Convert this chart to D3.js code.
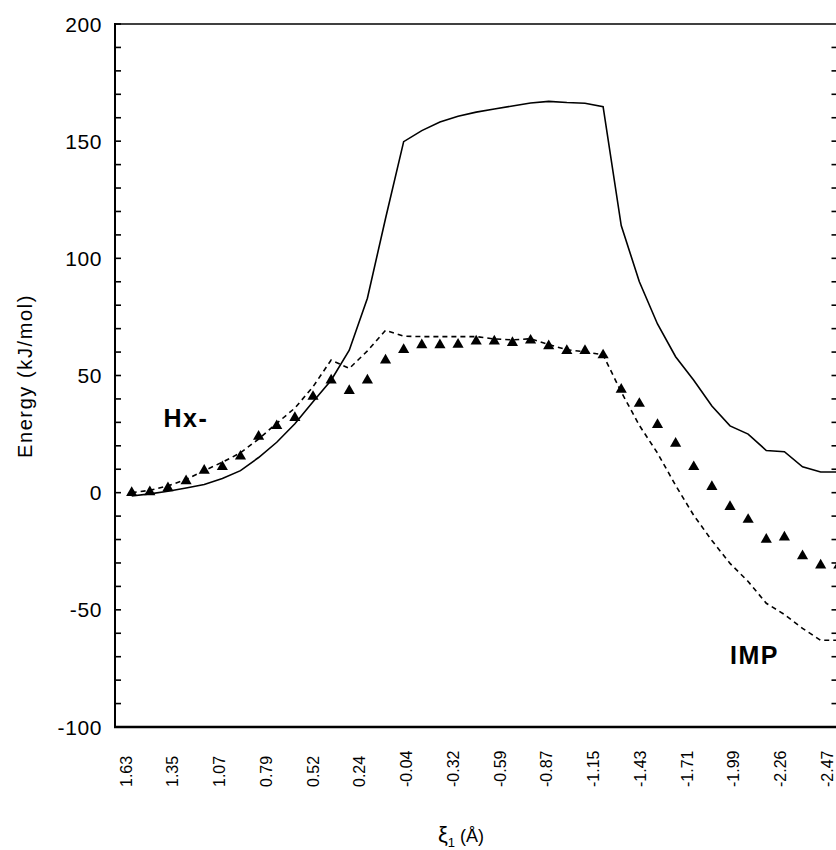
<!DOCTYPE html>
<html>
<head>
<meta charset="utf-8">
<script src="https://cdn.jsdelivr.net/npm/d3@7"></script>
<style>
  html, body { margin: 0; padding: 0; background: #fff; }
  svg { display: block; font-family: "Liberation Sans", Arial, sans-serif; }
</style>
</head>
<body>
<svg id="chart" width="836" height="850"></svg>
<script>
// ---- data ----
const xLabels = ["1.63","1.35","1.07","0.79","0.52","0.24","-0.04","-0.32","-0.59","-0.87","-1.15","-1.43","-1.71","-1.99","-2.26","-2.47"];
const yTicks = [-100, -50, 0, 50, 100, 150, 200];

// energies (kJ/mol) at successive points along the path
const solidLine = [-1.4, -0.5, 0.6, 2, 3.5, 6, 9.4, 15, 21.5, 29.4, 38.8, 48, 60.8, 83, 117, 149.8,
  154.5, 158.2, 160.6, 162.4, 163.7, 165, 166.3, 167, 166.5, 166.2, 164.7, 114, 90, 72, 58, 48,
  37, 28.5, 25, 18, 17.5, 11, 8.8, 8.8];
const dashedLine = [0, 1, 2.9, 5.6, 9.4, 13, 17, 22.9, 29.6, 36.1, 45.2, 56.6, 53, 60.5, 69.3, 66.8,
  66.6, 66.6, 66.6, 66.6, 65.6, 65.2, 65.7, 63.2, 61, 60.1, 58.8, 43, 28.7, 16.9, 3.1, -9.7,
  -20.4, -30.2, -37.9, -47.2, -52, -57.9, -63, -63];
const triangleSeries = [0, 0.3, 2, 5, 9.5, 11, 15.5, 24, 28.5, 32, 41, 48, 43.5, 48, 56.5, 61,
  63, 63, 63.2, 64.6, 64.6, 64, 65, 62.6, 60.6, 60.6, 58.7, 44, 38, 29, 21, 11,
  2.5, -6, -11.5, -20, -19, -27, -31, -31];
const annotations = [
  {text: "Hx-", idx: 1.75, val: 28},
  {text: "IMP", idx: 33, val: -73}
];

// ---- layout ----
const svg = d3.select("#chart");
const pLeft = 115, pTop = 24, pBottom = 727, pRight = 842;
const x = d3.scaleLinear().domain([0, 39]).range([131.7, 838.8]);
const y = d3.scaleLinear().domain([-100, 200]).range([pBottom, pTop]);
const xLab = d3.scalePoint().domain(xLabels).range([x(0), x(38.68)]);

svg.append("rect").attr("width", 836).attr("height", 850).attr("fill", "#fff");

// frame
const g = svg.append("g");
g.append("line").attr("x1", pLeft).attr("x2", pRight).attr("y1", pTop).attr("y2", pTop)
  .attr("stroke", "#000").attr("stroke-width", 1.6);
g.append("line").attr("x1", pRight).attr("x2", pRight).attr("y1", pTop).attr("y2", pBottom)
  .attr("stroke", "#000").attr("stroke-width", 2);

// left axis with inward minor ticks every 10
const minor = d3.range(-100, 201, 10);
g.append("g").selectAll("line").data(minor).join("line")
  .attr("x1", pLeft).attr("x2", pLeft + 6)
  .attr("y1", d => y(d)).attr("y2", d => y(d))
  .attr("stroke", "#000").attr("stroke-width", 1.6);
// right axis inward ticks
g.append("g").selectAll("line").data(minor.filter(d => d > -100 && d < 200)).join("line")
  .attr("x1", 831.5).attr("x2", pRight)
  .attr("y1", d => y(d)).attr("y2", d => y(d))
  .attr("stroke", "#000").attr("stroke-width", 1.6);

g.append("line").attr("x1", pLeft).attr("x2", pLeft).attr("y1", pTop - 1).attr("y2", pBottom + 1)
  .attr("stroke", "#000").attr("stroke-width", 2);
g.append("line").attr("x1", pLeft - 1).attr("x2", pRight).attr("y1", pBottom).attr("y2", pBottom)
  .attr("stroke", "#000").attr("stroke-width", 2.4);

// y tick labels
g.append("g").selectAll("text").data(yTicks).join("text")
  .attr("x", 102).attr("y", d => y(d))
  .attr("dy", "0.36em")
  .attr("text-anchor", "end")
  .attr("font-size", 21)
  .attr("letter-spacing", 0.6)
  .text(d => d);

// x tick labels (rotated)
g.append("g").selectAll("text").data(xLabels).join("text")
  .attr("transform", d => `translate(${xLab(d)},787) rotate(-90)`)
  .attr("text-anchor", "start")
  .attr("font-size", 16)
  .text(d => d);

// axis titles
svg.append("text")
  .attr("transform", "translate(32,376) rotate(-90)")
  .attr("text-anchor", "middle")
  .attr("font-size", 20)
  .attr("letter-spacing", 1.6)
  .text("Energy (kJ/mol)");

const xt = svg.append("text").attr("x", 461).attr("y", 842).attr("text-anchor", "middle").attr("font-size", 18);
xt.append("tspan").attr("font-size", 22).text("ξ");
xt.append("tspan").attr("font-size", 13).attr("dy", 5).text("1");
xt.append("tspan").attr("dy", -5).text(" (Å)");

// curves
const lineGen = d3.line().x((d, i) => x(i)).y(d => y(d));
svg.append("path").datum(solidLine).attr("d", lineGen)
  .attr("fill", "none").attr("stroke", "#000").attr("stroke-width", 1.6);
svg.append("path").datum(dashedLine).attr("d", lineGen)
  .attr("fill", "none").attr("stroke", "#000").attr("stroke-width", 1.6)
  .attr("stroke-dasharray", "5,4");

// triangle markers
const tri = d3.symbol().type(d3.symbolTriangle).size(54);
svg.append("g").selectAll("path").data(triangleSeries).join("path")
  .attr("transform", (d, i) => `translate(${x(i)},${y(d)})`)
  .attr("d", tri)
  .attr("fill", "#000");

// annotations
svg.append("g").selectAll("text").data(annotations).join("text")
  .attr("x", d => x(d.idx)).attr("y", d => y(d.val))
  .attr("font-size", 25).attr("font-weight", "bold")
  .attr("letter-spacing", 1.5)
  .text(d => d.text);
</script>
</body>
</html>
